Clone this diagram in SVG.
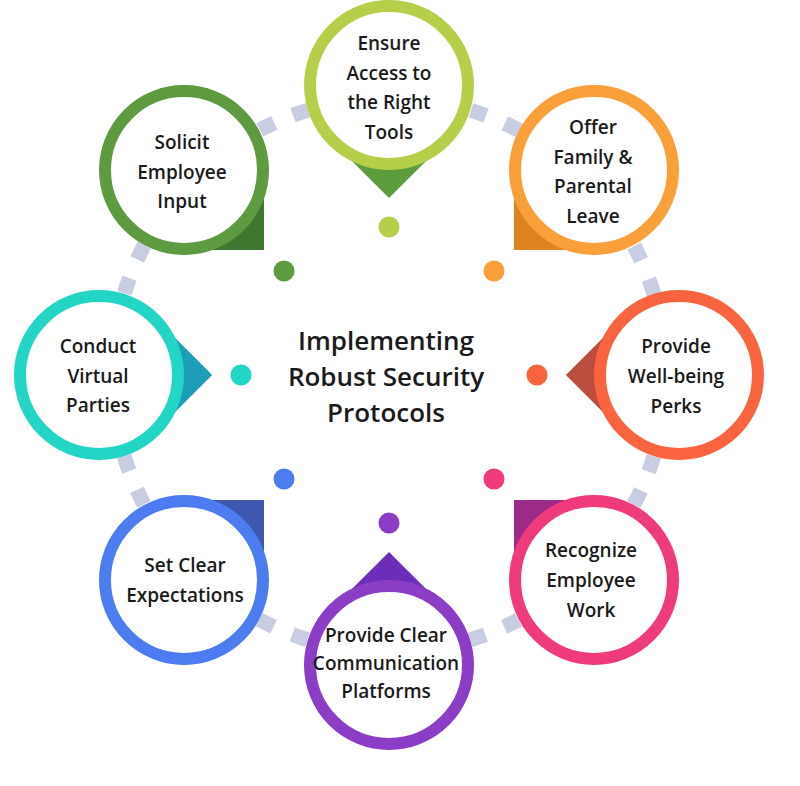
<svg xmlns="http://www.w3.org/2000/svg" width="800" height="786" viewBox="0 0 800 786">
<style>
.ring{fill:#ffffff;stroke-width:12}
.lbl{font-family:"Open Sans","Noto Sans","Liberation Sans",sans-serif;font-weight:600;font-size:19px;fill:#1a1a1a;text-anchor:middle}
.title{font-family:"Open Sans","Noto Sans","Liberation Sans",sans-serif;font-weight:600;font-size:26px;fill:#1a1a1a;text-anchor:middle}
</style>
<rect width="800" height="786" fill="#ffffff"/>
<g id="connectors">
<circle cx="389" cy="375" r="277" fill="none" stroke="#c9cde2" stroke-width="15" stroke-dasharray="16 20.26" stroke-dashoffset="-10.13"/>
</g>
<g id="center-title">
<text class="title" x="386" y="350">Implementing</text>
<text class="title" x="386" y="386">Robust Security</text>
<text class="title" x="386" y="422">Protocols</text>
</g>
<g id="node-ensure">
<polygon points="389,85 332.4,141.6 389,198.1 445.6,141.6" fill="#5d9c3c"/>
<circle class="ring" cx="389" cy="85" r="79" stroke="#b6cf4b"/>
<circle cx="389" cy="227" r="10.5" fill="#b6cf4b"/>
<text class="lbl" x="389" y="50">Ensure</text>
<text class="lbl" x="389" y="80">Access to</text>
<text class="lbl" x="389" y="109">the Right</text>
<text class="lbl" x="389" y="139">Tools</text>
</g>
<g id="node-offer">
<polygon points="594,170 514,170 514,250 594,250" fill="#e0821f"/>
<circle class="ring" cx="594" cy="170" r="79" stroke="#f9a03b"/>
<circle cx="494" cy="271" r="10.5" fill="#f9a03b"/>
<text class="lbl" x="593" y="134">Offer</text>
<text class="lbl" x="593" y="164">Family &amp;</text>
<text class="lbl" x="593" y="193">Parental</text>
<text class="lbl" x="593" y="223">Leave</text>
</g>
<g id="node-wellbeing">
<polygon points="679,375 622.4,318.4 565.9,375 622.4,431.6" fill="#bb4d3e"/>
<circle class="ring" cx="679" cy="375" r="79" stroke="#f9633f"/>
<circle cx="537" cy="375" r="10.5" fill="#f9633f"/>
<text class="lbl" x="676" y="353">Provide</text>
<text class="lbl" x="676" y="383">Well-being</text>
<text class="lbl" x="676" y="413">Perks</text>
</g>
<g id="node-recognize">
<polygon points="594,580 514,580 514,500 594,500" fill="#9c2a87"/>
<circle class="ring" cx="594" cy="580" r="79" stroke="#ef3b7b"/>
<circle cx="494" cy="479" r="10.5" fill="#ef3b7b"/>
<text class="lbl" x="591" y="557">Recognize</text>
<text class="lbl" x="591" y="587">Employee</text>
<text class="lbl" x="591" y="617">Work</text>
</g>
<g id="node-communication">
<polygon points="389,665 332.4,608.4 389,551.9 445.6,608.4" fill="#6c2db8"/>
<circle class="ring" cx="389" cy="665" r="79" stroke="#8b3ec5"/>
<circle cx="389" cy="523" r="10.5" fill="#8b3ec5"/>
<text class="lbl" x="386" y="642">Provide Clear</text>
<text class="lbl" x="386" y="670">Communication</text>
<text class="lbl" x="386" y="698">Platforms</text>
</g>
<g id="node-expectations">
<polygon points="184,580 264,580 264,500 184,500" fill="#3e58b1"/>
<circle class="ring" cx="184" cy="580" r="79" stroke="#4c7cf0"/>
<circle cx="284" cy="479" r="10.5" fill="#4c7cf0"/>
<text class="lbl" x="185" y="572">Set Clear</text>
<text class="lbl" x="185" y="602">Expectations</text>
</g>
<g id="node-parties">
<polygon points="99,375 155.6,318.4 212.1,375 155.6,431.6" fill="#1c9cb5"/>
<circle class="ring" cx="99" cy="375" r="79" stroke="#22d5c5"/>
<circle cx="241" cy="375" r="10.5" fill="#22d5c5"/>
<text class="lbl" x="98" y="353">Conduct</text>
<text class="lbl" x="98" y="383">Virtual</text>
<text class="lbl" x="98" y="412">Parties</text>
</g>
<g id="node-solicit">
<polygon points="184,170 264,170 264,250 184,250" fill="#3f7630"/>
<circle class="ring" cx="184" cy="170" r="79" stroke="#5e9a40"/>
<circle cx="284" cy="271" r="10.5" fill="#5e9a40"/>
<text class="lbl" x="182" y="149">Solicit</text>
<text class="lbl" x="182" y="179">Employee</text>
<text class="lbl" x="182" y="208">Input</text>
</g>
</svg>
